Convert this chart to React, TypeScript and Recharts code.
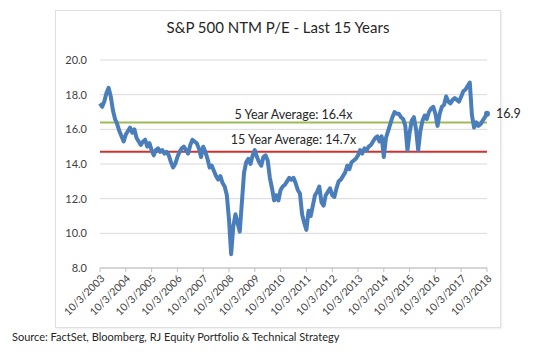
import { LineChart, Line, XAxis, YAxis, CartesianGrid, ReferenceLine, ReferenceDot } from 'recharts';

// monthly NTM P/E readings, Oct 2003 -> Oct 2018
const peValues = [
  17.5, 17.3, 17.6, 18.1, 18.4, 17.9, 17.1, 16.6, 16.3, 15.9, 15.6, 15.3,
  15.7, 15.9, 16.1, 15.8, 16.0, 15.5, 15.3, 15.1, 15.3, 15.4, 15.0, 15.2,
  14.8, 14.5, 14.8, 14.9, 14.7, 14.8, 14.6, 14.7, 14.5, 14.1, 13.8, 14.0,
  14.4, 14.7, 14.9, 15.0, 14.8, 14.6, 15.1, 15.4, 15.3, 15.2, 14.9, 14.4,
  15.0, 14.7, 14.3, 13.8, 13.9, 13.6, 13.3, 13.1, 13.3, 12.9, 12.7, 12.2,
  10.8, 8.8, 10.4, 11.1, 10.6, 10.1, 11.8, 13.5, 14.1, 14.3, 14.0, 14.5,
  14.8, 14.4, 14.1, 13.9, 14.4, 14.5, 14.2, 13.2, 12.6, 11.9, 12.2, 11.9,
  12.5, 12.7, 12.8, 13.0, 13.2, 13.1, 13.2, 12.9, 12.5, 12.3, 11.1, 10.6,
  10.2, 11.3, 11.0, 11.6, 12.2, 12.4, 12.7, 11.8, 11.6, 12.2, 12.4, 12.6,
  12.2, 12.1, 12.6, 13.0, 13.1, 13.3, 13.5, 13.9, 13.7, 14.1, 14.2, 14.3,
  14.5, 14.8, 14.6, 14.9, 14.8, 15.0, 15.1, 15.3, 15.5, 15.6, 15.3, 15.6,
  14.4, 15.5, 15.9, 16.3, 16.7, 17.0, 16.9, 16.9, 16.7, 16.6, 16.2, 14.8,
  15.8, 16.5, 16.7, 16.0, 14.8, 15.9, 16.5, 16.8, 16.6, 17.0, 17.2, 17.3,
  16.9, 16.2, 16.9, 17.3, 17.4, 17.9, 17.6, 17.5, 17.7, 17.8, 17.7, 17.6,
  17.9, 18.2, 18.3, 18.5, 18.7, 16.8, 16.1, 16.4, 16.2, 16.3, 16.5, 16.7,
  16.9,
];

const tickLabels = [
  '10/3/2003', '10/3/2004', '10/3/2005', '10/3/2006', '10/3/2007', '10/3/2008',
  '10/3/2009', '10/3/2010', '10/3/2011', '10/3/2012', '10/3/2013', '10/3/2014',
  '10/3/2015', '10/3/2016', '10/3/2017', '10/3/2018',
];

const yTicks = [8, 10, 12, 14, 16, 18, 20];

const avg5 = 16.4;
const avg15 = 14.7;

const BLUE = '#4A7EBB';
const GREEN = '#9BBB59';
const RED = '#D0312D';
const GRID = '#D9D9D9';
const TEXT = '#404040';
const FONT = 'Lato, "Open Sans", sans-serif';

const data = peValues.map((pe, i) => ({ i, pe }));
const xTicks = tickLabels.map((_, k) => k * 12);
const lastIdx = peValues.length - 1;

export default function App() {
  return (
    <div style={{ position: 'relative', width: 543, height: 356, margin: '-8px 0 0 -8px', background: '#fff', fontFamily: FONT }}>
      <div style={{
        position: 'absolute', left: 55, top: 10, width: 444, height: 316,
        border: '1px solid #E0E0E0', boxShadow: '1px 1px 2px rgba(0,0,0,0.08)', background: '#fff',
      }} />
      <div style={{ position: 'absolute', left: 55, top: 18, width: 446, textAlign: 'center', fontSize: 15, color: '#262626' }}>
        S&amp;P 500 NTM P/E - Last 15 Years
      </div>
      <div style={{ position: 'absolute', left: 55, top: 10 }}>
        <LineChart width={480} height={316} data={data} margin={{ top: 50, right: 48, left: 10, bottom: 8 }}>
          <CartesianGrid stroke={GRID} vertical={false} />
          <XAxis
            dataKey="i"
            type="number"
            domain={[0, lastIdx]}
            ticks={xTicks}
            tickFormatter={v => tickLabels[Math.round((v as number) / 12)]}
            interval={0}
            angle={-45}
            textAnchor="end"
            height={50}
            stroke="#BFBFBF"
            tickSize={4}
            tick={{ fill: TEXT, fontSize: 10.5, fontFamily: FONT }}
          />
          <YAxis
            domain={[8, 20]}
            ticks={yTicks}
            tickFormatter={v => (v as number).toFixed(1)}
            axisLine={false}
            tickLine={false}
            width={35}
            tick={{ fill: TEXT, fontSize: 11, fontFamily: FONT, dx: -5 }}
          />
          <ReferenceLine
            y={avg5}
            stroke={GREEN}
            strokeWidth={2}
            label={{ value: `5 Year Average: ${avg5.toFixed(1)}x`, position: 'top', offset: 3, fill: '#262626', fontSize: 12.5, fontFamily: FONT }}
          />
          <ReferenceLine
            y={avg15}
            stroke={RED}
            strokeWidth={2}
            label={{ value: `15 Year Average: ${avg15.toFixed(1)}x`, position: 'top', offset: 8, fill: '#262626', fontSize: 12.5, fontFamily: FONT }}
          />
          <Line
            type="linear"
            dataKey="pe"
            stroke={BLUE}
            strokeWidth={4}
            strokeLinejoin="round"
            dot={false}
            isAnimationActive={false}
          />
          <ReferenceDot
            x={lastIdx}
            y={peValues[lastIdx]}
            r={3}
            fill={BLUE}
            stroke="none"
            label={{ value: peValues[lastIdx].toFixed(1), position: 'right', offset: 6, fill: '#262626', fontSize: 12.5, fontFamily: FONT }}
          />
        </LineChart>
      </div>
      <div style={{ position: 'absolute', left: 12, top: 330, fontSize: 11, color: '#262626' }}>
        Source: FactSet, Bloomberg, RJ Equity Portfolio &amp; Technical Strategy
      </div>
    </div>
  );
}
